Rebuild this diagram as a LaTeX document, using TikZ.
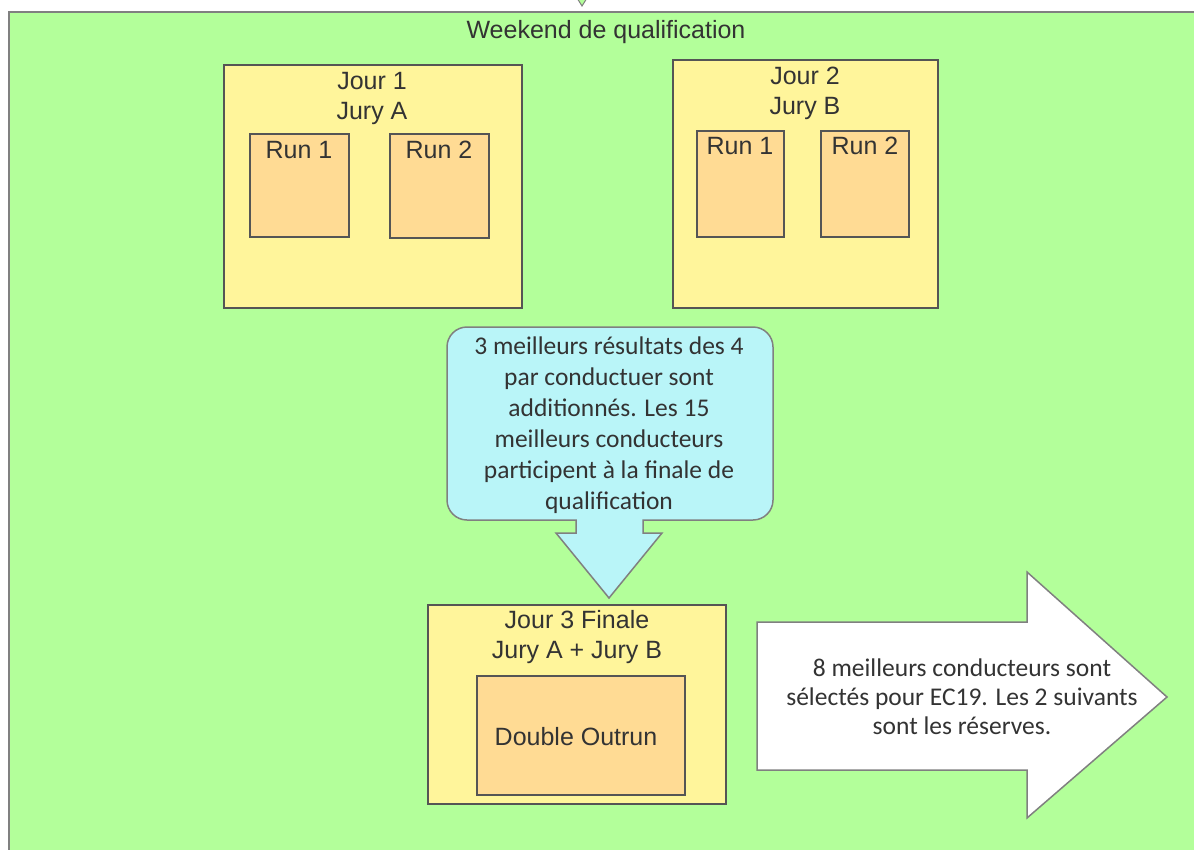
\documentclass[tikz,border=0pt]{standalone}
\usepackage{fontspec}
\setmainfont{Liberation Sans}
\newfontfamily\calibrifont{Carlito}
\definecolor{bggreen}{HTML}{B3FF9A}
\definecolor{boxyellow}{HTML}{FFF59B}
\definecolor{boxorange}{HTML}{FFDB94}
\definecolor{calloutcyan}{HTML}{B9F5F8}
\definecolor{txt}{HTML}{333333}
\definecolor{edge}{HTML}{555555}
\definecolor{outeredge}{HTML}{808080}
\tikzset{
  ybox/.style={draw=edge, line width=1.5pt, fill=boxyellow, inner sep=0pt},
  obox/.style={draw=edge, line width=1.5pt, fill=boxorange, inner sep=0pt},
  lbl/.style={text=txt, font=\fontsize{25}{30}\selectfont, align=center, inner sep=0pt},
  ctext/.style={text=txt, font=\calibrifont\fontsize{25.5}{31}\selectfont, align=center, inner sep=0pt},
  atext/.style={text=txt, font=\calibrifont\fontsize{25.5}{29}\selectfont, align=center, inner sep=0pt},
}
\begin{document}
\begin{tikzpicture}[x=1pt, y=-1pt]
\useasboundingbox (0,0) rectangle (1194,849);
\clip (0,0) rectangle (1194,849);
\fill[white] (0,0) rectangle (1194,849);
% outer group
\path[draw=outeredge, line width=2pt, fill=bggreen] (9,12) rectangle (1210,870);
% incoming arrow tip at top
\path[draw=outeredge, line width=1pt, fill=bggreen] (577,-2) -- (587,-2) -- (582,6) -- cycle;
\node[lbl] (title) at (606,32) {Weekend de qualification};
% Jour 1
\node[ybox, minimum width=298pt, minimum height=243pt] (j1) at (373,186.5) {};
\node[lbl] (j1t) at (372,98) {Jour 1\\Jury A};
\node[obox, minimum width=99pt, minimum height=103pt] (r11) at (299.5,185.5) {};
\node[lbl, anchor=north] (r11t) at (299,141) {Run 1};
\node[obox, minimum width=99pt, minimum height=104pt] (r12) at (439.5,186) {};
\node[lbl, anchor=north] (r12t) at (439,141) {Run 2};
% Jour 2
\node[ybox, minimum width=265pt, minimum height=248pt] (j2) at (805.5,184) {};
\node[lbl] (j2t) at (805,93) {Jour 2\\Jury B};
\node[obox, minimum width=87pt, minimum height=106pt] (r21) at (740.5,184) {};
\node[lbl, anchor=north] (r21t) at (740,137) {Run 1};
\node[obox, minimum width=88pt, minimum height=106pt] (r22) at (865,184) {};
\node[lbl, anchor=north] (r22t) at (865,137) {Run 2};
% callout
\path[draw=outeredge, line width=1.5pt, fill=calloutcyan]
  (447,420) [rounded corners=20pt] -- (447,327) -- (773,327) -- (773,520) -- (700,520)
  [sharp corners] -- (643,520) -- (643,533) -- (662,533) -- (609,598) -- (556,533)
  -- (576,533) -- (576,520) -- (520,520) [rounded corners=20pt] -- (447,520) -- cycle;
\node[ctext] (ct) at (609,425) {3 meilleurs résultats des 4\\par conductuer sont\\additionnés. Les 15\\meilleurs conducteurs\\participent à la finale de\\qualification};
% Jour 3
\node[ybox, minimum width=298pt, minimum height=199pt] (j3) at (577,704.5) {};
\node[lbl] (j3t) at (577,637) {Jour 3 Finale\\Jury A + Jury B};
\node[obox, minimum width=208pt, minimum height=119pt] (dbl) at (581,735.5) {};
\node[lbl] (dblt) at (576,737) {Double Outrun};
% result arrow
\path[draw=outeredge, line width=1.5pt, fill=white]
  (757,622) -- (1027,622) -- (1027,572) -- (1167,697) -- (1027,818) -- (1027,770) -- (757,770) -- cycle;
\node[atext] (at) at (962,697) {8 meilleurs conducteurs sont\\sélectés pour EC19. Les 2 suivants\\sont les réserves.};
\end{tikzpicture}
\end{document}
